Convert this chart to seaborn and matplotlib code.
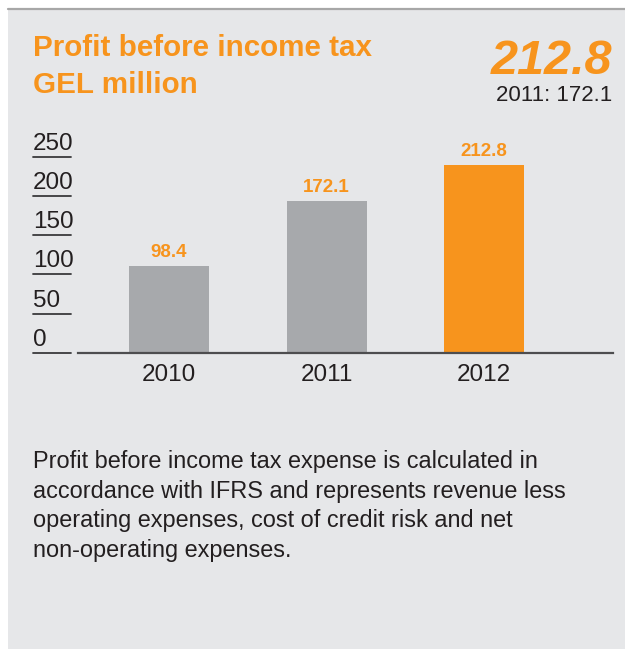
import matplotlib
matplotlib.use('Agg')
from matplotlib import pyplot as plt
from matplotlib.patches import Rectangle
from matplotlib.lines import Line2D
import seaborn as sns

# data
years = ['2010', '2011', '2012']
profit = [98.4, 172.1, 212.8]
bar_colors = ['#a7a9ac', '#a7a9ac', '#f7941d']
scale_ticks = [0, 50, 100, 150, 200, 250]
headline = '212.8'
prior = '2011: 172.1'
title = 'Profit before income tax\nGEL million'
note = ('Profit before income tax expense is calculated in\n'
        'accordance with IFRS and represents revenue less\n'
        'operating expenses, cost of credit risk and net\n'
        'non-operating expenses.')

orange = '#f7941d'
bg = '#e6e7e9'
ink = '#231f20'

W, H = 625, 649
sns.set_theme(style='white')
plt.rcParams['font.family'] = ['Liberation Sans', 'DejaVu Sans']

fig = plt.figure(figsize=(W / 100, H / 100), dpi=100, facecolor='white')


def fx(px):
    return px / W


def fy(py):
    return 1 - py / H


# grey panel with a thin rule on top
fig.add_artist(Rectangle((fx(8), 0), 1 - fx(8), fy(10), transform=fig.transFigure,
                         facecolor=bg, edgecolor='none', zorder=0))
fig.add_artist(Line2D([fx(8), 1], [fy(9), fy(9)], transform=fig.transFigure,
                      color='#a7a7a7', lw=1.6, zorder=1))

# headings (multi-line text: baseline is the last line)
fig.text(fx(33), fy(93), title, color=orange, fontsize=21.3, fontweight='bold',
         va='baseline', ha='left', linespacing=1.4)
fig.text(fx(612), fy(74), headline, color=orange, fontsize=35, fontweight='bold',
         style='italic', va='baseline', ha='right')
fig.text(fx(612), fy(101), prior, color=ink, fontsize=16, va='baseline', ha='right')

# bars
base_px, top_px = 352.7, 120
ax = fig.add_axes([fx(78), fy(base_px), fx(613) - fx(78), fy(top_px) - fy(base_px)])
ax.set_facecolor('none')
sns.barplot(x=years, y=profit, hue=years, palette=bar_colors, width=0.508,
            legend=False, saturation=1, linewidth=0, edgecolor='none', ax=ax)
ax.set_ylim(0, (base_px - top_px) / 0.88)
ax.set_xlim(-0.578, 2.819)
for i, v in enumerate(profit):
    ax.annotate(f'{v:.1f}', (i, v), xytext=(0, 6.5), textcoords='offset points',
                ha='center', va='baseline', color=orange, fontsize=13.5,
                fontweight='bold')
for s in ['top', 'right', 'left']:
    ax.spines[s].set_visible(False)
ax.spines['bottom'].set_color('#4d4d4f')
ax.spines['bottom'].set_linewidth(1.6)
ax.set_yticks([])
ax.tick_params(axis='x', length=0, pad=8, labelsize=17.5, labelcolor=ink)

# the scale column at the left (underlined labels)
sax = fig.add_axes([fx(33), fy(base_px), fx(71) - fx(33), fy(top_px) - fy(base_px)])
sax.set_xlim(0, 1)
sax.set_ylim(0, (base_px - top_px) / 0.784)
sax.axis('off')
for v in scale_ticks:
    sax.axhline(v, color='#3a3a3c', lw=1.3, clip_on=False)
    sax.annotate(str(v), (0, v), xytext=(0, 5), textcoords='offset points',
                 ha='left', va='baseline', color=ink, fontsize=17.5,
                 annotation_clip=False)

# footnote
fig.text(fx(33), fy(557), note, color=ink, fontsize=16.9, va='baseline',
         ha='left', linespacing=1.37)

fig.savefig('out.png', dpi=100, facecolor='white')
